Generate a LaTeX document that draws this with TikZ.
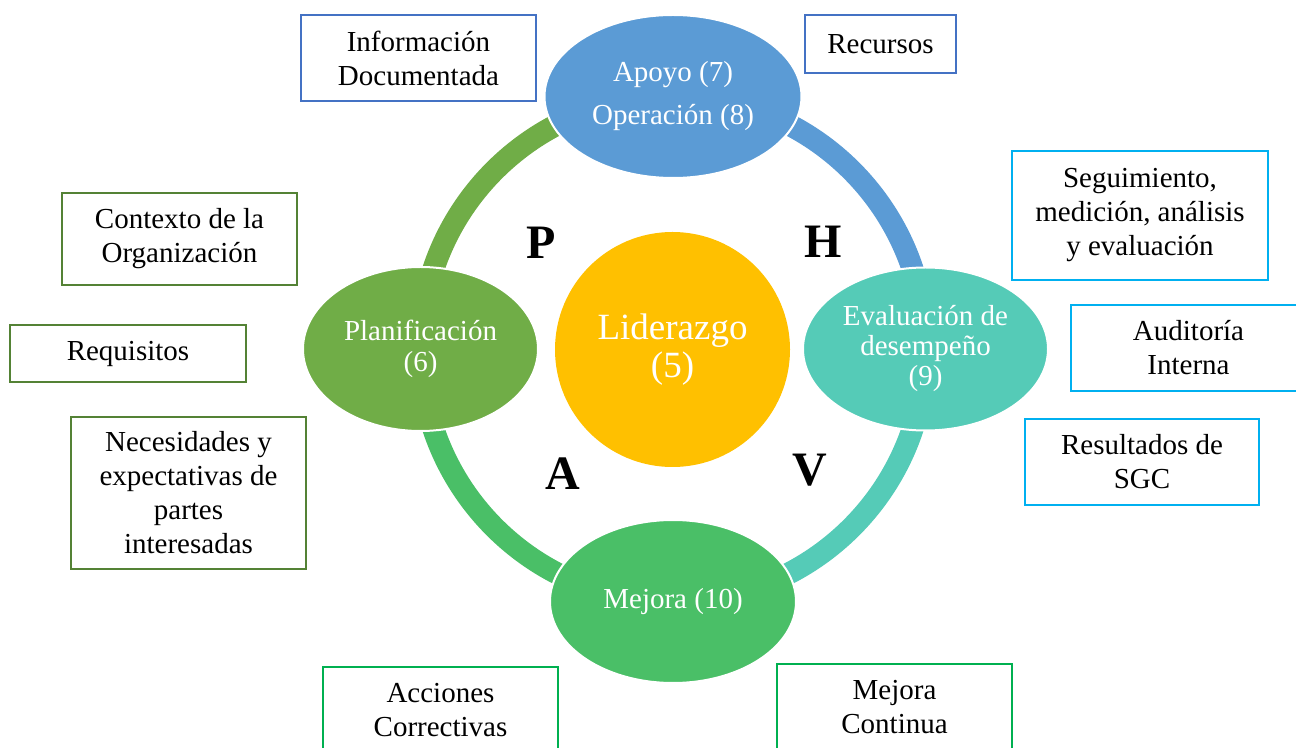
\documentclass[tikz,border=0pt]{standalone}
\usepackage{fontspec}
\setmainfont{Liberation Serif}
\usetikzlibrary{shapes.geometric,backgrounds}

\definecolor{lidercol}{HTML}{FFC000}
\definecolor{plancol}{HTML}{70AD47}
\definecolor{apoyocol}{HTML}{5B9BD5}
\definecolor{evalcol}{HTML}{55CBB7}
\definecolor{mejoracol}{HTML}{4ABF67}
\definecolor{bluebox}{HTML}{4472C4}
\definecolor{olivebox}{HTML}{548235}
\definecolor{cyanbox}{HTML}{00B0F0}
\definecolor{greenbox}{HTML}{00B050}

\tikzset{
  tbox/.style={draw=#1, line width=1pt, fill=white, align=center, inner sep=0pt,
    font=\fontsize{14.5}{17}\selectfont},
  stage/.style={ellipse, draw=white, line width=1pt, fill=#1, text=white,
    align=center, inner sep=0pt},
  ringarc/.style={line width=11pt, draw=#1},
  phase/.style={inner sep=0pt, font=\fontsize{24}{24}\selectfont\bfseries}
}

\begin{document}
\begin{tikzpicture}[x=0.5pt, y=-0.5pt]
\useasboundingbox (0,0) rectangle (1296,748);

% cycle stages
\node[stage=apoyocol, minimum width=128.5pt, minimum height=81.5pt,
      font=\fontsize{14.5}{21.5}\selectfont] (apoyo) at (673,96.5)
      {Apoyo (7)\\Operación (8)};
\node[stage=plancol, minimum width=117.5pt, minimum height=82pt,
      font=\fontsize{14.5}{15.5}\selectfont] (plan) at (420.5,349)
      {Planificación\\(6)};
\node[stage=evalcol, minimum width=122.5pt, minimum height=81.5pt,
      font=\fontsize{14.5}{15}\selectfont] (eval) at (925.5,349)
      {Evaluación de\\desempeño\\(9)};
\node[stage=mejoracol, minimum width=123pt, minimum height=81.5pt,
      font=\fontsize{14.5}{15}\selectfont] (mejora) at (673,601.5)
      {Mejora (10)};
\node[circle, fill=lidercol, text=white, align=center, inner sep=0pt,
      minimum size=117.5pt, font=\fontsize{18.5}{19}\selectfont] (lider) at (672.5,349.5)
      {Liderazgo\\(5)};

% ring segments between stages
\begin{scope}[on background layer]
  \draw[ringarc=plancol]   (plan.center)   arc[start angle=180, end angle=270, radius=252.5];
  \draw[ringarc=apoyocol]  (apoyo.center)  arc[start angle=270, end angle=360, radius=252.5];
  \draw[ringarc=evalcol]   (eval.center)   arc[start angle=0,   end angle=90,  radius=252.5];
  \draw[ringarc=mejoracol] (mejora.center) arc[start angle=90,  end angle=180, radius=252.5];
\end{scope}

% PHVA letters
\node[phase] (pP) at (541.5,242.5) {P};
\node[phase] (pH) at (823.5,241.5) {H};
\node[phase] (pA) at (563,473.5) {A};
\node[phase] (pV) at (810,470) {V};

% related topics
\node[tbox=bluebox, minimum width=117.5pt, minimum height=43pt] (info) at (418.5,58)
  {Información\\Documentada};
\node[tbox=bluebox, minimum width=75.5pt, minimum height=29pt] (recursos) at (880.5,44)
  {Recursos};
\node[tbox=olivebox, minimum width=117.5pt, minimum height=46pt] (contexto) at (179.5,239)
  {Contexto de la\\Organización};
\node[tbox=olivebox, minimum width=118pt, minimum height=28.5pt] (requisitos) at (128,353.5)
  {Requisitos};
\node[tbox=olivebox, minimum width=117.5pt, minimum height=76pt] (necesidades) at (188.5,493)
  {Necesidades y\\expectativas de\\partes\\interesadas};
\node[tbox=cyanbox, minimum width=128pt, minimum height=64.5pt] (seguimiento) at (1140,215.5)
  {Seguimiento,\\medición, análisis\\y evaluación};
\node[tbox=cyanbox, minimum width=117.5pt, minimum height=43pt] (auditoria) at (1188.5,348)
  {Auditoría\\Interna};
\node[tbox=cyanbox, minimum width=117pt, minimum height=43pt] (resultados) at (1142,462)
  {Resultados de\\SGC};
\node[tbox=greenbox, minimum width=117.5pt, minimum height=43pt] (acciones) at (440.5,710)
  {Acciones\\Correctivas};
\node[tbox=greenbox, minimum width=117.5pt, minimum height=43pt] (continua) at (894.5,707)
  {Mejora\\Continua};
\end{tikzpicture}
\end{document}
